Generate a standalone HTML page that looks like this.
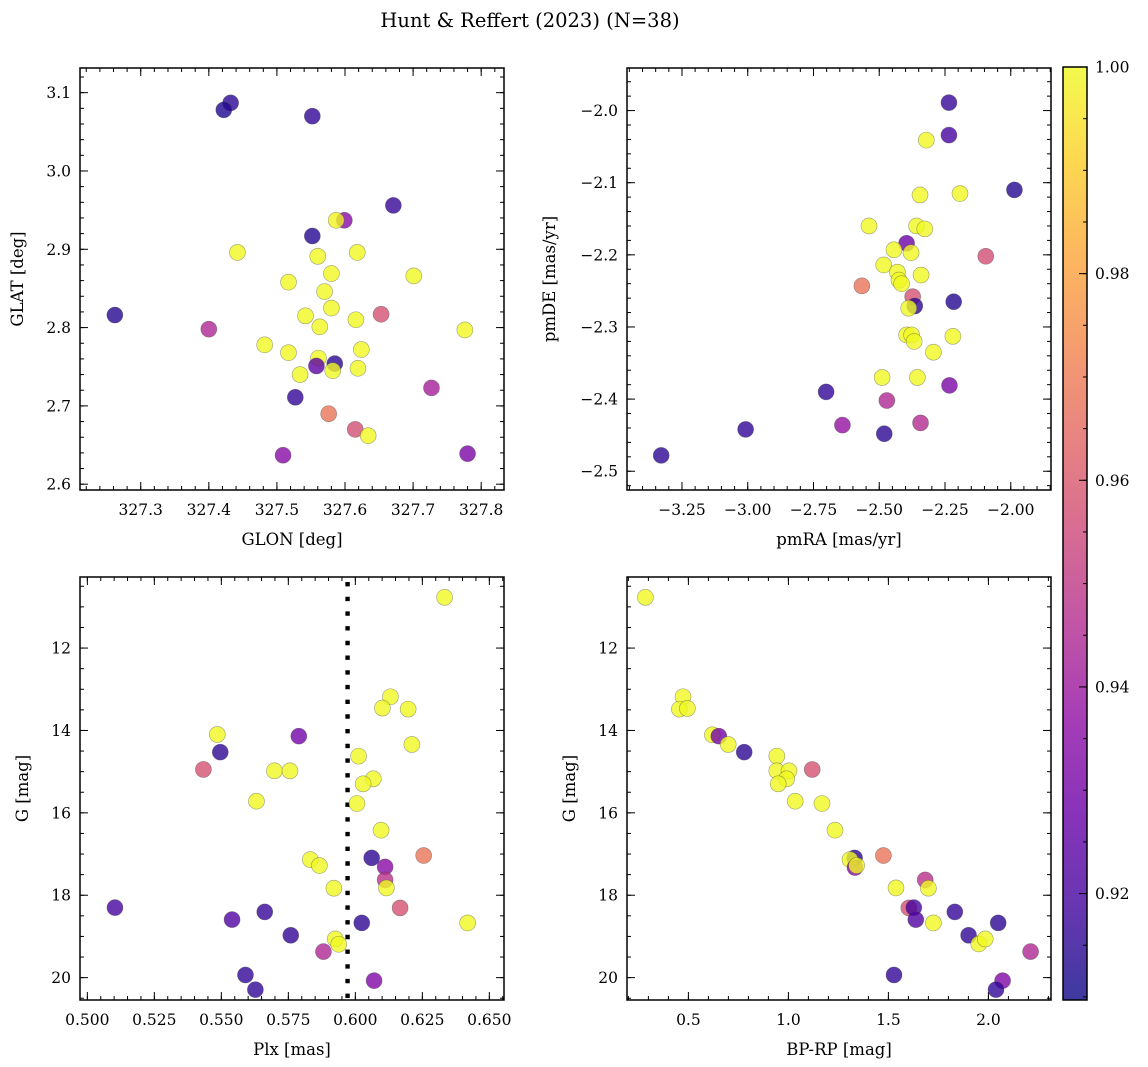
<!DOCTYPE html>
<html><head><meta charset="utf-8"><style>
html,body{margin:0;padding:0;background:#fff;}
svg{display:block;font-family:"DejaVu Serif","Liberation Serif",serif;}
</style></head><body>
<svg id="fig" width="1148" height="1067" viewBox="0 0 1148 1067" xmlns="http://www.w3.org/2000/svg">
<defs>
<linearGradient id="plasmaGrad" x1="0" y1="1" x2="0" y2="0">
<stop offset="0" stop-color="#0d0887"/><stop offset="0.1" stop-color="#41049d"/><stop offset="0.2" stop-color="#6a00a8"/><stop offset="0.3" stop-color="#8f0da4"/><stop offset="0.4" stop-color="#b12a90"/><stop offset="0.5" stop-color="#cc4778"/><stop offset="0.6" stop-color="#e16462"/><stop offset="0.7" stop-color="#f2844b"/><stop offset="0.8" stop-color="#fca636"/><stop offset="0.9" stop-color="#fcce25"/><stop offset="1" stop-color="#f0f921"/>
</linearGradient>
</defs>
<text x="530" y="27" font-size="19.5" text-anchor="middle">Hunt &amp; Reffert (2023) (N=38)</text>
</svg>
<script>
// ---- Panel 1: GLON / GLAT ----
const p1Glon=[327.432,327.422,327.552,327.671,327.599,327.587,327.552,327.442,327.560,327.618,327.580,327.701,327.517,327.570,327.580,327.262,327.542,327.653,327.616,327.563,327.400,327.776,327.482,327.624,327.517,327.561,327.558,327.585,327.582,327.619,327.534,327.727,327.527,327.576,327.615,327.634,327.509,327.780];
const p1Glat=[3.087,3.078,3.070,2.956,2.937,2.937,2.917,2.896,2.891,2.896,2.869,2.866,2.858,2.846,2.825,2.816,2.815,2.817,2.810,2.801,2.798,2.797,2.778,2.772,2.768,2.761,2.751,2.754,2.745,2.748,2.740,2.723,2.711,2.690,2.670,2.662,2.637,2.639];
const p1Prob=[0.915,0.913,0.916,0.917,0.935,0.999,0.914,1.0,1.0,1.0,1.0,1.0,1.0,1.0,1.0,0.914,1.0,0.958,1.0,1.0,0.945,1.0,1.0,1.0,1.0,1.0,0.925,0.915,1.0,1.0,1.0,0.942,0.916,0.968,0.957,1.0,0.935,0.932];
// ---- Panel 2: pmRA / pmDE ----
const p2Pmra=[-2.235,-2.235,-2.321,-1.986,-2.345,-2.193,-2.539,-2.358,-2.327,-2.396,-2.444,-2.379,-2.095,-2.483,-2.431,-2.425,-2.415,-2.341,-2.566,-2.373,-2.365,-2.388,-2.217,-2.396,-2.377,-2.367,-2.220,-2.294,-2.489,-2.355,-2.233,-2.702,-2.471,-2.640,-2.343,-3.008,-2.481,-3.329];
const p2Pmde=[-1.989,-2.034,-2.041,-2.110,-2.117,-2.115,-2.160,-2.160,-2.164,-2.184,-2.193,-2.197,-2.202,-2.214,-2.224,-2.235,-2.240,-2.228,-2.243,-2.258,-2.271,-2.274,-2.265,-2.311,-2.311,-2.320,-2.313,-2.335,-2.370,-2.370,-2.381,-2.390,-2.402,-2.436,-2.433,-2.442,-2.448,-2.478];
const p2Prob=[0.917,0.920,1.0,0.914,1.0,1.0,1.0,1.0,1.0,0.928,1.0,1.0,0.957,1.0,1.0,1.0,1.0,1.0,0.968,0.958,0.915,1.0,0.914,1.0,1.0,1.0,1.0,1.0,1.0,1.0,0.932,0.916,0.945,0.938,0.946,0.916,0.915,0.915];
// ---- Panel 3: Plx / G ----
const p3Plx=[0.6333,0.6131,0.6101,0.6197,0.5485,0.5789,0.6211,0.5496,0.6012,0.5433,0.5698,0.5756,0.6067,0.6029,0.5631,0.6006,0.6096,0.5832,0.5866,0.6061,0.6111,0.6255,0.6111,0.6116,0.5920,0.6167,0.5103,0.5662,0.5540,0.6024,0.6419,0.5759,0.5925,0.5938,0.5881,0.5590,0.6070,0.5627];
const p3G=[10.769,13.182,13.457,13.482,14.097,14.138,14.340,14.526,14.623,14.947,14.980,14.980,15.174,15.296,15.717,15.773,16.421,17.134,17.279,17.093,17.312,17.036,17.628,17.822,17.830,18.308,18.300,18.405,18.591,18.672,18.672,18.972,19.061,19.190,19.368,19.935,20.073,20.291];
const p3Prob=[1.0,1.0,1.0,1.0,1.0,0.930,1.0,0.915,1.0,0.958,1.0,1.0,1.0,1.0,1.0,1.0,1.0,1.0,1.0,0.915,0.935,0.968,0.948,1.0,1.0,0.958,0.920,0.917,0.922,0.915,1.0,0.916,1.0,1.0,0.945,0.916,0.933,0.916];
const plxCut=[0.5971];
// ---- Panel 4: BP-RP / G ----
const p4Bprp=[0.285,0.473,0.455,0.495,0.620,0.652,0.699,0.779,0.942,1.119,0.942,1.003,0.991,0.949,1.034,1.168,1.233,1.331,1.308,1.333,1.341,1.475,1.684,1.700,1.538,1.602,1.627,1.832,1.637,1.725,2.049,1.901,1.952,1.984,2.211,1.528,2.071,2.038];
const p4G=[10.769,13.182,13.482,13.466,14.105,14.138,14.340,14.526,14.623,14.947,14.980,14.980,15.174,15.296,15.717,15.773,16.421,17.093,17.134,17.328,17.279,17.036,17.628,17.830,17.822,18.308,18.300,18.405,18.591,18.672,18.672,18.972,19.182,19.061,19.368,19.935,20.073,20.291];
const p4Prob=[1.0,1.0,1.0,1.0,1.0,0.930,1.0,0.915,1.0,0.958,1.0,1.0,1.0,1.0,1.0,1.0,1.0,0.915,1.0,0.935,1.0,0.968,0.948,1.0,1.0,0.958,0.920,0.917,0.922,1.0,0.915,0.916,1.0,1.0,0.945,0.916,0.933,0.916];
// ---- Tick values / labels ----
const p1XTicks=[327.3,327.4,327.5,327.6,327.7,327.8];
const p1XLabels=["327.3","327.4","327.5","327.6","327.7","327.8"];
const p1YTicks=[2.6,2.7,2.8,2.9,3.0,3.1];
const p1YLabels=["2.6","2.7","2.8","2.9","3.0","3.1"];
const p2XTicks=[-3.25,-3.0,-2.75,-2.5,-2.25,-2.0];
const p2XLabels=["\u22123.25","\u22123.00","\u22122.75","\u22122.50","\u22122.25","\u22122.00"];
const p2YTicks=[-2.5,-2.4,-2.3,-2.2,-2.1,-2.0];
const p2YLabels=["\u22122.5","\u22122.4","\u22122.3","\u22122.2","\u22122.1","\u22122.0"];
const p3XTicks=[0.5,0.525,0.55,0.575,0.6,0.625,0.65];
const p3XLabels=["0.500","0.525","0.550","0.575","0.600","0.625","0.650"];
const gTicks=[12,14,16,18,20];
const gLabels=["12","14","16","18","20"];
const p4XTicks=[0.5,1.0,1.5,2.0];
const p4XLabels=["0.5","1.0","1.5","2.0"];
const cbTicks=[0.92,0.94,0.96,0.98,1.0];
const cbLabels=["0.92","0.94","0.96","0.98","1.00"];
const cbRange=[0.9097,1.0];

const NS="http://www.w3.org/2000/svg";
const svg=document.getElementById('fig');
function mk(tag,attrs,parent){const e=document.createElementNS(NS,tag);for(const k in attrs)e.setAttribute(k,attrs[k]);(parent||svg).appendChild(e);return e;}

const stops=[[13,8,135],[65,4,157],[106,0,168],[143,13,164],[177,42,144],[204,71,120],[225,100,98],[242,132,75],[252,166,54],[252,206,37],[240,249,33]];
function plasma(t){t=Math.max(0,Math.min(1,t));const f=t*10;const i=Math.min(9,Math.floor(f));const r=f-i;const a=stops[i],b=stops[i+1];return 'rgb('+a.map((v,k)=>Math.round(v+(b[k]-v)*r)).join(',')+')';}

function range(a,b,step){const out=[];const n=Math.round((b-a)/step);for(let i=0;i<=n;i++)out.push(a+i*step);return out;}

function panel(cfg){
  const g=mk('g',{});
  
  
  const sx=v=>cfg.left+(v-cfg.xmin)/(cfg.xmax-cfg.xmin)*cfg.w;
  const sy=cfg.invert?(v=>cfg.top+(v-cfg.ymin)/(cfg.ymax-cfg.ymin)*cfg.h):(v=>cfg.top+cfg.h-(v-cfg.ymin)/(cfg.ymax-cfg.ymin)*cfg.h);
  const L=cfg.left,T=cfg.top,R=cfg.left+cfg.w,B=cfg.top+cfg.h;
  const tg=mk('g',{stroke:'#000','stroke-width':1},g);
  
  
  const xmin0=Math.min(cfg.xmin,cfg.xmax),xmax0=Math.max(cfg.xmin,cfg.xmax);
  range(Math.ceil(xmin0/cfg.xMinor)*cfg.xMinor,xmax0,cfg.xMinor).forEach(v=>{if(v<xmin0||v>xmax0)return;const x=sx(v);mk('line',{x1:x,x2:x,y1:B,y2:B-4},tg);mk('line',{x1:x,x2:x,y1:T,y2:T+4},tg);});
  const ymin0=Math.min(cfg.ymin,cfg.ymax),ymax0=Math.max(cfg.ymin,cfg.ymax);
  range(Math.ceil(ymin0/cfg.yMinor)*cfg.yMinor,ymax0,cfg.yMinor).forEach(v=>{if(v<ymin0||v>ymax0)return;const y=sy(v);mk('line',{x1:L,x2:L+4,y1:y,y2:y},tg);mk('line',{x1:R,x2:R-4,y1:y,y2:y},tg);});
  cfg.xTicks.forEach((v,i)=>{const x=sx(v);mk('line',{x1:x,x2:x,y1:B,y2:B-8},tg);mk('line',{x1:x,x2:x,y1:T,y2:T+8},tg);
    const t=mk('text',{x:x,y:B+25,'font-size':15.5,'text-anchor':'middle'},g);t.textContent=cfg.xLabels[i];
    });
  cfg.yTicks.forEach((v,i)=>{const y=sy(v);mk('line',{x1:L,x2:L+8,y1:y,y2:y},tg);mk('line',{x1:R,x2:R-8,y1:y,y2:y},tg);
    const t=mk('text',{x:L-9,y:y+5.5,'font-size':15.5,'text-anchor':'end'},g);t.textContent=cfg.yLabels[i];
    });
  if(cfg.vline){const x=sx(cfg.vline[0]);const ln=mk('line',{x1:x,x2:x,y1:T+5,y2:B,stroke:'#000','stroke-width':4.4,'stroke-dasharray':'4.4 10.3'},g);
    }
  cfg.xs.forEach((v,i)=>{
    const c=mk('circle',{cx:sx(v),cy:sy(cfg.ys[i]),r:8,fill:plasma((cfg.p[i]-cbRange[0])/(cbRange[1]-cbRange[0])),'fill-opacity':0.8,stroke:'#444','stroke-opacity':0.5,'stroke-width':0.6},g);
    
    
  });
  const fr=mk('rect',{x:L,y:T,width:cfg.w,height:cfg.h,fill:'none',stroke:'#000','stroke-width':1.5},g);
  
  const xl=mk('text',{x:L+cfg.w/2,y:B+55,'font-size':16.5,'text-anchor':'middle'},g);xl.textContent=cfg.xlabel;
  
  const yx=cfg.ylabelX,yy=T+cfg.h/2;
  const yl=mk('text',{x:yx,y:yy,'font-size':16.5,'text-anchor':'middle',transform:'rotate(-90 '+yx+' '+yy+')'},g);yl.textContent=cfg.ylabel;
  
}

panel({name:'glon-glat-panel',left:80,top:68,w:424,h:422,xmin:327.2108,xmax:327.8335,ymin:2.5926,ymax:3.1315,xMinor:0.02,yMinor:0.02,xTicks:p1XTicks,xLabels:p1XLabels,yTicks:p1YTicks,yLabels:p1YLabels,xs:p1Glon,ys:p1Glat,p:p1Prob,xlabel:'GLON [deg]',ylabel:'GLAT [deg]',ylabelX:23});
panel({name:'pm-panel',left:627,top:68,w:424,h:422,xmin:-3.459,xmax:-1.847,ymin:-2.526,ymax:-1.941,xMinor:0.05,yMinor:0.02,xTicks:p2XTicks,xLabels:p2XLabels,yTicks:p2YTicks,yLabels:p2YLabels,xs:p2Pmra,ys:p2Pmde,p:p2Prob,xlabel:'pmRA [mas/yr]',ylabel:'pmDE [mas/yr]',ylabelX:555});
panel({name:'plx-g-panel',left:80,top:577,w:424,h:423,xmin:0.49726,xmax:0.65547,ymin:10.275,ymax:20.543,invert:true,xMinor:0.005,yMinor:0.5,xTicks:p3XTicks,xLabels:p3XLabels,yTicks:gTicks,yLabels:gLabels,xs:p3Plx,ys:p3G,p:p3Prob,xlabel:'Plx [mas]',ylabel:'G [mag]',ylabelX:28,vline:plxCut});
panel({name:'cmd-panel',left:627,top:577,w:424,h:423,xmin:0.193,xmax:2.313,ymin:10.275,ymax:20.543,invert:true,xMinor:0.1,yMinor:0.5,xTicks:p4XTicks,xLabels:p4XLabels,yTicks:gTicks,yLabels:gLabels,xs:p4Bprp,ys:p4G,p:p4Prob,xlabel:'BP-RP [mag]',ylabel:'G [mag]',ylabelX:575});

const cb=mk('g',{});


const cbL=1063,cbT=67,cbW=24,cbH=933;
const cbY=v=>cbT+cbH-(v-cbRange[0])/(cbRange[1]-cbRange[0])*cbH;
mk('rect',{x:cbL,y:cbT,width:cbW,height:cbH,fill:'url(#plasmaGrad)','fill-opacity':0.8},cb);
mk('rect',{x:cbL,y:cbT,width:cbW,height:cbH,fill:'none',stroke:'#000','stroke-width':1.5},cb);
range(0.91,1.0,0.005).forEach(v=>{if(v<cbRange[0]||v>cbRange[1])return;const y=cbY(v);mk('line',{x1:cbL+cbW,x2:cbL+cbW-4,y1:y,y2:y,stroke:'#000'},cb);});
cbTicks.forEach((v,i)=>{const y=cbY(v);mk('line',{x1:cbL+cbW,x2:cbL+cbW-8,y1:y,y2:y,stroke:'#000'},cb);
  const t=mk('text',{x:cbL+cbW+8,y:y+5.5,'font-size':15.5},cb);t.textContent=cbLabels[i];
  });
</script>
</body></html>
